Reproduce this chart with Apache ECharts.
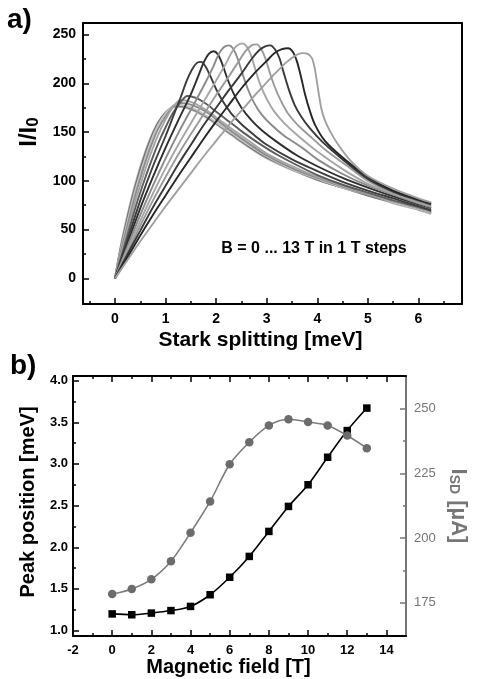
<!DOCTYPE html>
<html><head><meta charset="utf-8">
<script src="https://cdn.jsdelivr.net/npm/echarts@6/dist/echarts.min.js"></script>
<style>html,body{margin:0;padding:0;background:#fff}#c{width:477px;height:679px}</style>
</head><body><div id="c"></div>
<script>
// ---------- tick labels ----------
const starkTicks = [0, 1, 2, 3, 4, 5, 6];
const starkMinorTicks = [-0.5, 0.5, 1.5, 2.5, 3.5, 4.5, 5.5, 6.5];
const intensityTicks = [0, 50, 100, 150, 200, 250];
const intensityMinorTicks = [25, 75, 125, 175, 225];
const fieldTicks = [-2, 0, 2, 4, 6, 8, 10, 12, 14];
const fieldMinorTicks = [-1, 1, 3, 5, 7, 9, 11, 13];
const peakTicks = [1.0, 1.5, 2.0, 2.5, 3.0, 3.5, 4.0];
const peakMinorTicks = [1.25, 1.75, 2.25, 2.75, 3.25, 3.75];
const currentTicks = [175, 200, 225, 250];
const currentMinorTicks = [187.5, 212.5, 237.5];

// ---------- panel b data ----------
const magneticField = [0, 1, 2, 3, 4, 5, 6, 7, 8, 9, 10, 11, 12, 13];
const peakPosition = [1.20, 1.19, 1.21, 1.24, 1.29, 1.43, 1.64, 1.89, 2.19, 2.49, 2.75, 3.08, 3.40, 3.67];
const currentSD = [178.4, 180.4, 184.1, 191.1, 202.1, 214.2, 228.6, 237.1, 243.6, 246.0, 244.9, 243.6, 239.7, 234.8];

// ---------- panel a data: [Stark splitting, I/I0] for B = 0 ... 13 T ----------
const curveB0 = [[0,0],[0.1,30],[0.25,66],[0.4,97],[0.55,123],[0.7,144],[0.85,160],[1.0,170],[1.2,176],[1.4,175],[1.6,171],[1.8,165],[2.0,158],[2.3,147],[2.6,136],[3.0,123],[3.5,111],[4.0,101],[4.5,93],[5.0,85],[5.5,77],[6.0,70],[6.25,66]];
const curveB1 = [[0,0],[0.1,28],[0.25,63],[0.4,94],[0.55,120],[0.7,142],[0.85,159],[1.0,170],[1.2,177],[1.4,176],[1.6,172],[1.8,166],[2.0,159],[2.3,148],[2.6,137],[3.0,124],[3.5,112],[4.0,101],[4.5,93],[5.0,85],[5.5,78],[6.0,71],[6.25,67]];
const curveB2 = [[0,0],[0.1,26],[0.25,59],[0.4,90],[0.55,116],[0.7,139],[0.85,157],[1.0,169],[1.2,178],[1.4,177],[1.6,173],[1.8,167],[2.0,160],[2.3,149],[2.6,138],[3.0,125],[3.5,112],[4.0,102],[4.5,93],[5.0,86],[5.5,78],[6.0,71],[6.25,67]];
const curveB3 = [[0,0],[0.1,24],[0.25,55],[0.4,85],[0.55,111],[0.7,134],[0.85,153],[1.0,166],[1.25,180],[1.45,179],[1.65,175],[1.85,169],[2.05,161],[2.3,151],[2.6,140],[3.0,126],[3.5,113],[4.0,103],[4.5,94],[5.0,86],[5.5,79],[6.0,72],[6.25,68]];
const curveB4 = [[0,0],[0.1,21],[0.25,50],[0.4,79],[0.55,104],[0.7,127],[0.85,147],[1.0,163],[1.15,176],[1.3,183],[1.5,181],[1.7,176],[1.9,169],[2.1,161],[2.4,150],[2.7,139],[3.0,128],[3.5,115],[4.0,104],[4.5,95],[5.0,87],[5.5,79],[6.0,72],[6.25,68]];
const curveB5 = [[0,0],[0.1,18],[0.25,45],[0.4,72],[0.55,96],[0.7,118],[0.85,138],[1.0,155],[1.15,170],[1.3,181],[1.43,187],[1.6,185],[1.8,179],[2.0,171],[2.2,163],[2.5,151],[2.8,140],[3.2,127],[3.6,116],[4.0,106],[4.5,96],[5.0,88],[5.5,80],[6.0,73],[6.25,69]];
const curveB6 = [[0,0],[0.25,40],[0.5,80],[0.75,115],[1.0,146],[1.15,166],[1.3,186],[1.42,203],[1.52,214],[1.62,221],[1.7,222],[1.78,218],[1.88,208],[2.0,194],[2.15,180],[2.3,169],[2.5,158],[2.75,147],[3.0,137],[3.5,122],[4.0,110],[4.5,99],[5.0,90],[5.5,82],[6.0,74],[6.25,70]];
const curveB7 = [[0,0],[0.25,36],[0.5,72],[0.75,104],[1.0,134],[1.25,162],[1.5,189],[1.65,208],[1.75,221],[1.85,230],[1.95,233],[2.03,230],[2.12,220],[2.22,205],[2.35,189],[2.5,175],[2.7,162],[2.9,152],[3.2,140],[3.6,126],[4.0,115],[4.5,103],[5.0,93],[5.5,84],[6.0,76],[6.25,72]];
const curveB8 = [[0,0],[0.25,33],[0.5,65],[0.75,95],[1.0,123],[1.25,149],[1.5,173],[1.75,197],[1.95,218],[2.05,230],[2.15,237],[2.25,239],[2.33,236],[2.42,226],[2.52,210],[2.62,195],[2.75,180],[2.9,168],[3.1,157],[3.35,146],[3.7,134],[4.0,122],[4.5,107],[5.0,95],[5.5,86],[6.0,77],[6.25,73]];
const curveB9 = [[0,0],[0.25,30],[0.5,59],[0.75,87],[1.0,113],[1.25,137],[1.5,159],[1.75,181],[2.0,203],[2.2,221],[2.32,233],[2.42,239],[2.52,241],[2.6,238],[2.68,230],[2.77,215],[2.87,199],[3.0,184],[3.15,171],[3.35,159],[3.6,147],[4.0,130],[4.5,112],[5.0,97],[5.5,87],[6.0,78],[6.25,74]];
const curveB10 = [[0,0],[0.25,27],[0.5,54],[0.75,80],[1.0,104],[1.25,127],[1.5,148],[1.75,168],[2.0,188],[2.25,207],[2.45,223],[2.58,233],[2.7,239],[2.8,240],[2.88,236],[2.97,226],[3.06,211],[3.16,196],[3.28,182],[3.42,169],[3.6,158],[3.85,146],[4.2,130],[4.6,115],[5.0,100],[5.5,88],[6.0,79],[6.25,75]];
const curveB11 = [[0,0],[0.25,25],[0.5,49],[0.75,73],[1.0,95],[1.25,117],[1.5,137],[1.75,157],[2.0,175],[2.25,193],[2.5,210],[2.7,225],[2.85,234],[2.97,238],[3.07,239],[3.16,235],[3.25,226],[3.34,210],[3.44,193],[3.55,178],[3.68,166],[3.85,154],[4.1,140],[4.5,122],[5.0,102],[5.5,89],[6.0,80],[6.25,76]];
const curveB12 = [[0,0],[0.25,22],[0.5,44],[0.75,65],[1.0,85],[1.25,105],[1.5,124],[1.75,143],[2.0,161],[2.25,178],[2.5,195],[2.75,210],[3.0,223],[3.15,231],[3.3,235],[3.42,236],[3.52,232],[3.6,222],[3.68,206],[3.76,188],[3.85,172],[3.95,158],[4.15,141],[4.5,124],[5.0,104],[5.5,90],[6.0,81],[6.25,77]];
const curveB13 = [[0,0],[0.25,19],[0.5,38],[0.75,56],[1.0,74],[1.25,91],[1.5,108],[1.75,125],[2.0,141],[2.25,157],[2.5,172],[2.75,187],[3.0,201],[3.2,212],[3.4,222],[3.55,228],[3.7,231],[3.82,230],[3.9,225],[3.96,212],[4.02,192],[4.08,174],[4.15,162],[4.25,151],[4.4,138],[4.65,121],[5.0,105],[5.5,92],[6.0,82],[6.25,78]];

const curves = [curveB0, curveB1, curveB2, curveB3, curveB4, curveB5, curveB6, curveB7, curveB8, curveB9, curveB10, curveB11, curveB12, curveB13];
const curveColors = ['#b4b4b4', '#6e6e6e', '#c4c4c4', '#8c8c8c', '#a4a4a4', '#5c5c5c', '#3c3c3c', '#2e2e2e', '#8a8a8a', '#a6a6a6', '#9a9a9a', '#383838', '#262626', '#a0a0a0'];

const FONT = '"Liberation Sans", Arial, Helvetica, sans-serif';
const GREY = '#767676';

function tickAxis(base, ticks, len, color, showLine, labels) {
  return Object.assign({
    type: 'value',
    splitLine: { show: false },
    axisLine: { show: showLine, onZero: false, lineStyle: { color: color, width: 2 } },
    axisTick: { show: !!ticks, inside: true, length: len, customValues: ticks || [], lineStyle: { color: color, width: 1.5 } },
    axisLabel: labels ? labels : { show: false }
  }, base);
}
function lbl(values, margin, size, color, weight, fmt) {
  const o = { show: true, customValues: values, margin: margin, fontSize: size, color: color, fontWeight: weight, fontFamily: FONT };
  if (fmt) o.formatter = fmt;
  return o;
}

const aX = { min: -0.633, max: 6.86 };
const aY = { min: -26.3, max: 261.9 };
const bX = { min: -2, max: 15 };
const bY = { min: 0.935, max: 4.055 };
const bY2 = { min: 162.2, max: 262.7 };

const xAxis = [
  tickAxis(Object.assign({ gridIndex: 0, position: 'bottom',
    name: 'Stark splitting [meV]', nameLocation: 'middle', nameGap: 26,
    nameTextStyle: { fontSize: 21, fontWeight: 'bold', color: '#000', fontFamily: FONT, padding: [0, 24, 0, 0] } }, aX),
    starkTicks, 6, '#000', true, lbl(starkTicks, 8, 14, '#000', 'bold')),
  tickAxis(Object.assign({ gridIndex: 0, position: 'bottom' }, aX), starkMinorTicks, 3, '#000', false),
  tickAxis(Object.assign({ gridIndex: 0, position: 'top' }, aX), null, 0, '#000', true),
  tickAxis(Object.assign({ gridIndex: 1, position: 'bottom',
    name: 'Magnetic field [T]', nameLocation: 'middle', nameGap: 21,
    nameTextStyle: { fontSize: 20, fontWeight: 'bold', color: '#000', fontFamily: FONT, padding: [0, 22, 0, 0] } }, bX),
    fieldTicks, 6, '#000', true, lbl(fieldTicks, 8, 13, '#000', 'bold')),
  tickAxis(Object.assign({ gridIndex: 1, position: 'bottom' }, bX), fieldMinorTicks, 3, '#000', false),
  tickAxis(Object.assign({ gridIndex: 1, position: 'top' }, bX), fieldTicks, 6, '#000', true),
  tickAxis(Object.assign({ gridIndex: 1, position: 'top' }, bX), fieldMinorTicks, 3, '#000', false)
];

const yAxis = [
  tickAxis(Object.assign({ gridIndex: 0, position: 'left',
    name: '{m|I/I}{s|0}', nameLocation: 'middle', nameRotate: 90, nameGap: 41,
    nameTextStyle: { color: '#000', fontFamily: FONT, padding: [0, 0, 0, 63],
      rich: { m: { fontSize: 24, fontWeight: 'bold', fontFamily: FONT, color: '#000', lineHeight: 24 },
              s: { fontSize: 17, fontWeight: 'bold', fontFamily: FONT, color: '#000', lineHeight: 12, verticalAlign: 'bottom' } } } }, aY),
    intensityTicks, 6, '#000', true, lbl(intensityTicks, 7, 14, '#000', 'bold')),
  tickAxis(Object.assign({ gridIndex: 0, position: 'left' }, aY), intensityMinorTicks, 3, '#000', false),
  tickAxis(Object.assign({ gridIndex: 0, position: 'right' }, aY), null, 0, '#000', true),
  tickAxis(Object.assign({ gridIndex: 1, position: 'left',
    name: 'Peak position [meV]', nameLocation: 'middle', nameRotate: 90, nameGap: 35,
    nameTextStyle: { fontSize: 20, fontWeight: 'bold', color: '#000', fontFamily: FONT, padding: [0, 0, 0, 8] } }, bY),
    peakTicks, 6, '#000', true, lbl(peakTicks, 5, 13, '#000', 'bold', v => v.toFixed(1))),
  tickAxis(Object.assign({ gridIndex: 1, position: 'left' }, bY), peakMinorTicks, 3, '#000', false),
  tickAxis(Object.assign({ gridIndex: 1, position: 'right',
    name: '{m|I}{s|SD}{m| [µA]}', nameLocation: 'middle', nameRotate: -90, nameGap: 41,
    nameTextStyle: { color: GREY, fontFamily: FONT,
      rich: { m: { fontSize: 22, fontWeight: 'bold', fontFamily: FONT, color: GREY, lineHeight: 22 },
              s: { fontSize: 14, fontWeight: 'bold', fontFamily: FONT, color: GREY, lineHeight: 10, verticalAlign: 'bottom' } } } }, bY2),
    currentTicks, 6, GREY, true, lbl(currentTicks, 8, 13, GREY, 'normal')),
  tickAxis(Object.assign({ gridIndex: 1, position: 'right' }, bY2), currentMinorTicks, 3, GREY, false)
];

const series = curves.map((c, i) => ({
  type: 'line', name: 'B = ' + i + ' T', xAxisIndex: 0, yAxisIndex: 0,
  data: c, showSymbol: false, smooth: 0.3, silent: true,
  lineStyle: { color: curveColors[i], width: 1.9 }, z: 2
}));
series.push({
  type: 'line', name: 'Peak position', xAxisIndex: 3, yAxisIndex: 3,
  data: magneticField.map((b, i) => [b, peakPosition[i]]),
  smooth: 0.3, symbol: 'rect', symbolSize: 7.5, showSymbol: true,
  lineStyle: { color: '#000', width: 1.6 }, itemStyle: { color: '#000' }, z: 3
});
series.push({
  type: 'line', name: 'I_SD', xAxisIndex: 3, yAxisIndex: 5,
  data: magneticField.map((b, i) => [b, currentSD[i]]),
  smooth: 0.3, symbol: 'circle', symbolSize: 8.5, showSymbol: true,
  lineStyle: { color: '#7c7c7c', width: 1.6 }, itemStyle: { color: '#6c6c6c' }, z: 4
});

const chart = echarts.init(document.getElementById('c'), null, { renderer: 'canvas' });
chart.setOption({
  animation: false,
  backgroundColor: '#fff',
  grid: [
    { left: 83, top: 23, width: 379, height: 281 },
    { left: 73, top: 376, width: 349, height: 260 }
  ],
  xAxis: xAxis,
  yAxis: yAxis,
  series: series,
  graphic: [
    { type: 'text', left: 7, top: 6, style: { text: 'a)', font: 'bold 28px ' + FONT, fill: '#000' } },
    { type: 'text', left: 10, top: 352, style: { text: 'b)', font: 'bold 28px ' + FONT, fill: '#000' } },
    { type: 'text', x: 314, y: 249, style: { text: 'B = 0 ... 13 T in 1 T steps', font: 'bold 16px ' + FONT, fill: '#000', align: 'center', verticalAlign: 'middle' } }
  ]
});
</script>
</body></html>
